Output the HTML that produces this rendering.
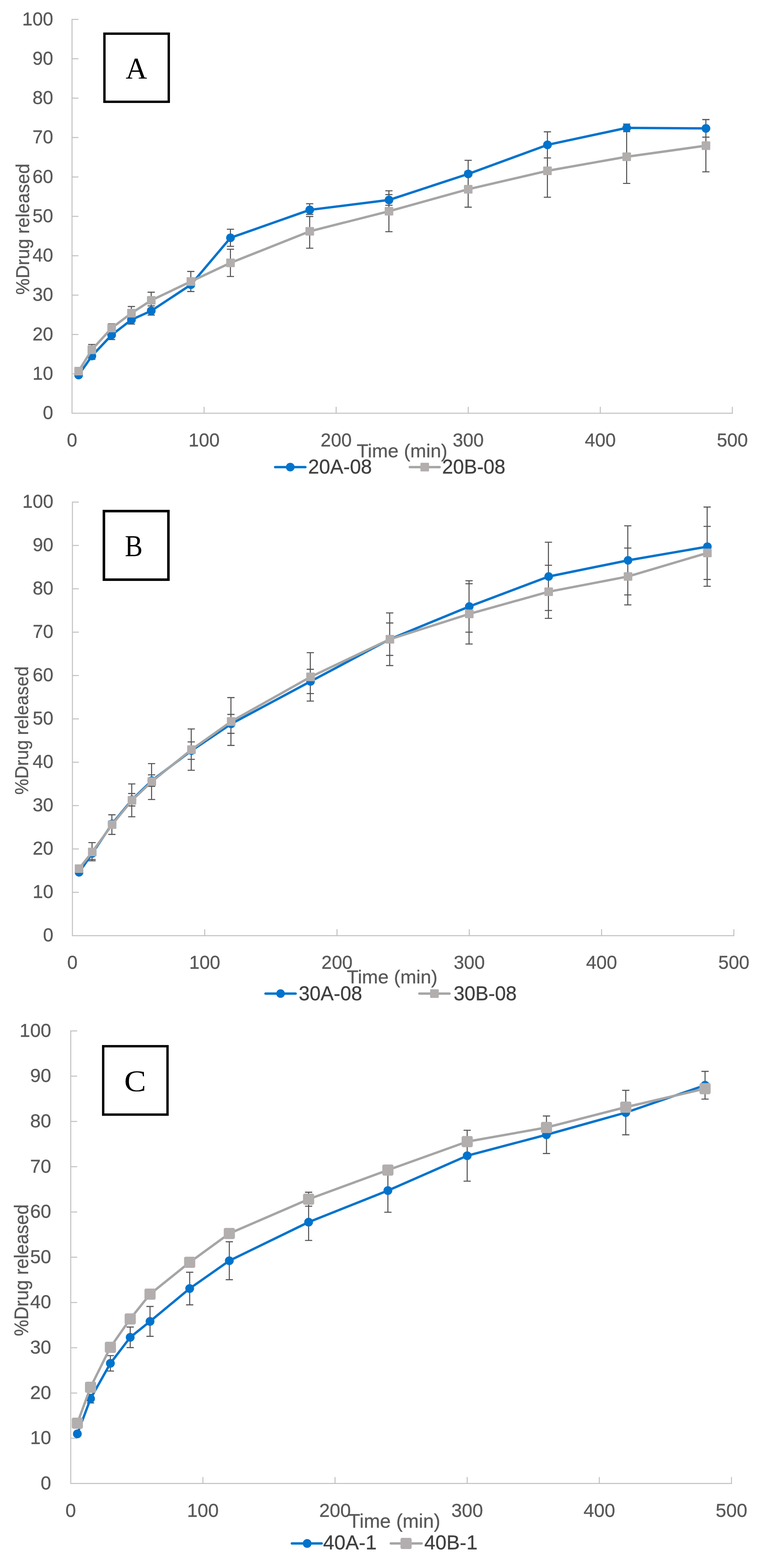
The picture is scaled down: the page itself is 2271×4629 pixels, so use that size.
<!DOCTYPE html>
<html lang="en"><head><meta charset="utf-8"><title>Drug release profiles</title>
<style>html,body{margin:0;padding:0;background:#fff;overflow:hidden}svg{display:block}.t{font-family:'Liberation Sans', sans-serif;fill:#595959;stroke:#595959;stroke-width:.5px}.l{font-family:'Liberation Sans', sans-serif;fill:#404040;stroke:#404040;stroke-width:.5px}.s{font-family:'Liberation Serif', serif;fill:#000}</style>
</head><body>
<svg width="2271" height="4629" viewBox="0 0 2271 4629">
<rect width="2271" height="4629" fill="#fff"/>
<g id="chart-A">
<path d="M212.7 55.8 V1220 H2164.3 M212.7 1103.73 h19 M212.7 987.46 h19 M212.7 871.19 h19 M212.7 754.92 h19 M212.7 638.65 h19 M212.7 522.38 h19 M212.7 406.11 h19 M212.7 289.84 h19 M212.7 173.57 h19 M212.7 57.3 h19 M602.72 1220 v-19 M992.74 1220 v-19 M1382.76 1220 v-19 M1772.78 1220 v-19 M2162.8 1220 v-19" fill="none" stroke="#C2C2C2" stroke-width="3" stroke-linejoin="round"/>
<g class="t" font-size="55" text-anchor="end">
<text x="157.15" y="1237.3" textLength="30.59" lengthAdjust="spacingAndGlyphs">0</text>
<text x="157.15" y="1121.03" textLength="61.18" lengthAdjust="spacingAndGlyphs">10</text>
<text x="157.15" y="1004.76" textLength="61.18" lengthAdjust="spacingAndGlyphs">20</text>
<text x="157.15" y="888.49" textLength="61.18" lengthAdjust="spacingAndGlyphs">30</text>
<text x="157.15" y="772.22" textLength="61.18" lengthAdjust="spacingAndGlyphs">40</text>
<text x="157.15" y="655.95" textLength="61.18" lengthAdjust="spacingAndGlyphs">50</text>
<text x="157.15" y="539.68" textLength="61.18" lengthAdjust="spacingAndGlyphs">60</text>
<text x="157.15" y="423.41" textLength="61.18" lengthAdjust="spacingAndGlyphs">70</text>
<text x="157.15" y="307.14" textLength="61.18" lengthAdjust="spacingAndGlyphs">80</text>
<text x="157.15" y="190.87" textLength="61.18" lengthAdjust="spacingAndGlyphs">90</text>
<text x="157.15" y="74.6" textLength="91.76" lengthAdjust="spacingAndGlyphs">100</text>
</g>
<g class="t" font-size="55" text-anchor="middle">
<text x="212.7" y="1318" textLength="30.59" lengthAdjust="spacingAndGlyphs">0</text>
<text x="602.72" y="1318" textLength="91.76" lengthAdjust="spacingAndGlyphs">100</text>
<text x="992.74" y="1318" textLength="91.76" lengthAdjust="spacingAndGlyphs">200</text>
<text x="1382.76" y="1318" textLength="91.76" lengthAdjust="spacingAndGlyphs">300</text>
<text x="1772.78" y="1318" textLength="91.76" lengthAdjust="spacingAndGlyphs">400</text>
<text x="2162.8" y="1318" textLength="91.76" lengthAdjust="spacingAndGlyphs">500</text>
</g>
<text class="t" font-size="56" transform="translate(85.8 870) rotate(-90)" textLength="386.9" lengthAdjust="spacingAndGlyphs">%Drug released</text>
<text class="t" font-size="56" x="1053.5" y="1350.2" textLength="267.9" lengthAdjust="spacingAndGlyphs">Time (min)</text>
<path d="M271 1041.3V1060.7M260.3 1041.3h21.4M260.3 1060.7h21.4M329.51 975.5V1002.5M318.81 975.5h21.4M318.81 1002.5h21.4M388.01 931.1V956.7M377.31 931.1h21.4M377.31 956.7h21.4M446.51 903V930.3M435.81 903h21.4M435.81 930.3h21.4M680.52 676.7V727.3M669.82 676.7h21.4M669.82 727.3h21.4M914.54 601.55V632.9M903.84 601.55h21.4M903.84 632.9h21.4M1148.55 574.55V606.05M1137.85 574.55h21.4M1137.85 606.05h21.4M1382.56 473.3V553.7M1371.86 473.3h21.4M1371.86 553.7h21.4M1616.57 389.1V466.3M1605.87 389.1h21.4M1605.87 466.3h21.4M1850.58 366.2V388.8M1839.88 366.2h21.4M1839.88 388.8h21.4M2084.6 353.3V404.9M2073.9 353.3h21.4M2073.9 404.9h21.4M271 1017V1048M260.3 1017h21.4M260.3 1048h21.4M329.51 956V980.8M318.81 956h21.4M318.81 980.8h21.4M388.01 904.9V944.1M377.31 904.9h21.4M377.31 944.1h21.4M446.51 862.6V910.6M435.81 862.6h21.4M435.81 910.6h21.4M563.52 801.35V860.65M552.82 801.35h21.4M552.82 860.65h21.4M680.52 735.8V816.2M669.82 735.8h21.4M669.82 816.2h21.4M914.54 639.15V732.7M903.84 639.15h21.4M903.84 732.7h21.4M1148.55 563.2V684M1137.85 563.2h21.4M1137.85 684h21.4M1382.56 505.8V611.6M1371.86 505.8h21.4M1371.86 611.6h21.4M1616.57 426.4V582.2M1605.87 426.4h21.4M1605.87 582.2h21.4M1850.58 383.9V541.5M1839.88 383.9h21.4M1839.88 541.5h21.4M2084.6 352.7V507.3M2073.9 352.7h21.4M2073.9 507.3h21.4" fill="none" stroke="#555555" stroke-width="3.1"/>
<path d="M232.2 1107.2 L271.2 1051 L329.71 989 L388.21 943.9 L446.71 917.6 L563.72 840.5 L680.72 702 L914.74 619.6 L1148.75 590.3 L1382.76 513.5 L1616.77 427.7 L1850.78 377.5 L2084.8 379.1" fill="none" stroke="#0073CC" stroke-width="7" stroke-linejoin="round" stroke-linecap="round"/>
<g fill="#0073CC"><circle cx="232.2" cy="1107.2" r="12.85"/><circle cx="271.2" cy="1051" r="12.85"/><circle cx="329.71" cy="989" r="12.85"/><circle cx="388.21" cy="943.9" r="12.85"/><circle cx="446.71" cy="917.6" r="12.85"/><circle cx="563.72" cy="840.5" r="12.85"/><circle cx="680.72" cy="702" r="12.85"/><circle cx="914.74" cy="619.6" r="12.85"/><circle cx="1148.75" cy="590.3" r="12.85"/><circle cx="1382.76" cy="513.5" r="12.85"/><circle cx="1616.77" cy="427.7" r="12.85"/><circle cx="1850.78" cy="377.5" r="12.85"/><circle cx="2084.8" cy="379.1" r="12.85"/></g>
<path d="M232.2 1095.6 L271.2 1032.5 L329.71 968.4 L388.21 924.5 L446.71 886.6 L563.72 831 L680.72 776 L914.74 682.9 L1148.75 623.6 L1382.76 558.7 L1616.77 504.3 L1850.78 462.7 L2084.8 430" fill="none" stroke="#A5A5A5" stroke-width="7" stroke-linejoin="round" stroke-linecap="round"/>
<g fill="#B3AEAE"><rect x="219.5" y="1082.9" width="25.4" height="25.4" rx="2"/><rect x="258.5" y="1019.8" width="25.4" height="25.4" rx="2"/><rect x="317.01" y="955.7" width="25.4" height="25.4" rx="2"/><rect x="375.51" y="911.8" width="25.4" height="25.4" rx="2"/><rect x="434.01" y="873.9" width="25.4" height="25.4" rx="2"/><rect x="551.02" y="818.3" width="25.4" height="25.4" rx="2"/><rect x="668.02" y="763.3" width="25.4" height="25.4" rx="2"/><rect x="902.04" y="670.2" width="25.4" height="25.4" rx="2"/><rect x="1136.05" y="610.9" width="25.4" height="25.4" rx="2"/><rect x="1370.06" y="546" width="25.4" height="25.4" rx="2"/><rect x="1604.07" y="491.6" width="25.4" height="25.4" rx="2"/><rect x="1838.08" y="450" width="25.4" height="25.4" rx="2"/><rect x="2072.1" y="417.3" width="25.4" height="25.4" rx="2"/></g>
<path d="M812.6 1379H901.8" stroke="#0073CC" stroke-width="7" stroke-linecap="round"/>
<circle cx="857.2" cy="1379" r="12.85" fill="#0073CC"/>
<path d="M1210.3 1379H1298.3" stroke="#A5A5A5" stroke-width="7" stroke-linecap="round"/>
<rect x="1241.6" y="1366.3" width="25.4" height="25.4" rx="2" fill="#B3AEAE"/>
<text class="l" font-size="58.5" x="910.08" y="1398.3" textLength="188.24" lengthAdjust="spacingAndGlyphs">20A-08</text>
<text class="l" font-size="58.5" x="1305.78" y="1398.3" textLength="186.74" lengthAdjust="spacingAndGlyphs">20B-08</text>
<rect x="308.4" y="99.4" width="190" height="201.1" fill="#fff" stroke="#000" stroke-width="7"/>
<text class="s" font-size="88.79" transform="translate(371.12 230.8) scale(0.99 1)">A</text>
</g>
<g id="chart-B">
<path d="M213.9 1480.8 V2762.2 H2168.7 M213.9 2634.21 h19 M213.9 2506.22 h19 M213.9 2378.23 h19 M213.9 2250.24 h19 M213.9 2122.25 h19 M213.9 1994.26 h19 M213.9 1866.27 h19 M213.9 1738.28 h19 M213.9 1610.29 h19 M213.9 1482.3 h19 M604.56 2762.2 v-19 M995.22 2762.2 v-19 M1385.88 2762.2 v-19 M1776.54 2762.2 v-19 M2167.2 2762.2 v-19" fill="none" stroke="#C2C2C2" stroke-width="3" stroke-linejoin="round"/>
<g class="t" font-size="55" text-anchor="end">
<text x="157.65" y="2778.8" textLength="30.59" lengthAdjust="spacingAndGlyphs">0</text>
<text x="157.65" y="2650.81" textLength="61.18" lengthAdjust="spacingAndGlyphs">10</text>
<text x="157.65" y="2522.82" textLength="61.18" lengthAdjust="spacingAndGlyphs">20</text>
<text x="157.65" y="2394.83" textLength="61.18" lengthAdjust="spacingAndGlyphs">30</text>
<text x="157.65" y="2266.84" textLength="61.18" lengthAdjust="spacingAndGlyphs">40</text>
<text x="157.65" y="2138.85" textLength="61.18" lengthAdjust="spacingAndGlyphs">50</text>
<text x="157.65" y="2010.86" textLength="61.18" lengthAdjust="spacingAndGlyphs">60</text>
<text x="157.65" y="1882.87" textLength="61.18" lengthAdjust="spacingAndGlyphs">70</text>
<text x="157.65" y="1754.88" textLength="61.18" lengthAdjust="spacingAndGlyphs">80</text>
<text x="157.65" y="1626.89" textLength="61.18" lengthAdjust="spacingAndGlyphs">90</text>
<text x="157.65" y="1498.9" textLength="91.76" lengthAdjust="spacingAndGlyphs">100</text>
</g>
<g class="t" font-size="55" text-anchor="middle">
<text x="213.9" y="2859.5" textLength="30.59" lengthAdjust="spacingAndGlyphs">0</text>
<text x="604.56" y="2859.5" textLength="91.76" lengthAdjust="spacingAndGlyphs">100</text>
<text x="995.22" y="2859.5" textLength="91.76" lengthAdjust="spacingAndGlyphs">200</text>
<text x="1385.88" y="2859.5" textLength="91.76" lengthAdjust="spacingAndGlyphs">300</text>
<text x="1776.54" y="2859.5" textLength="91.76" lengthAdjust="spacingAndGlyphs">400</text>
<text x="2167.2" y="2859.5" textLength="91.76" lengthAdjust="spacingAndGlyphs">500</text>
</g>
<text class="t" font-size="56" transform="translate(83.1 2346.1) rotate(-90)" textLength="378.9" lengthAdjust="spacingAndGlyphs">%Drug released</text>
<text class="t" font-size="56" x="1024" y="2902.8" textLength="268.2" lengthAdjust="spacingAndGlyphs">Time (min)</text>
<path d="M271.8 2504.5V2537.2M261.1 2504.5h21.4M261.1 2537.2h21.4M389 2342.65V2379.35M378.3 2342.65h21.4M378.3 2379.35h21.4M447.6 2287.5V2321.5M436.9 2287.5h21.4M436.9 2321.5h21.4M564.79 2190.2V2241.8M554.09 2190.2h21.4M554.09 2241.8h21.4M681.99 2109.15V2164.85M671.29 2109.15h21.4M671.29 2164.85h21.4M916.39 1975.85V2047.55M905.69 1975.85h21.4M905.69 2047.55h21.4M1150.78 1839.1V1934.9M1140.08 1839.1h21.4M1140.08 1934.9h21.4M1385.18 1714.5V1866.3M1374.48 1714.5h21.4M1374.48 1866.3h21.4M1619.58 1600.7V1802.3M1608.88 1600.7h21.4M1608.88 1802.3h21.4M1853.97 1552.2V1756.2M1843.27 1552.2h21.4M1843.27 1756.2h21.4M2088.37 1496.9V1730.7M2077.67 1496.9h21.4M2077.67 1730.7h21.4M271.8 2487.5V2541.3M261.1 2487.5h21.4M261.1 2541.3h21.4M330.4 2405.4V2463.4M319.7 2405.4h21.4M319.7 2463.4h21.4M389 2314.3V2411.3M378.3 2314.3h21.4M378.3 2411.3h21.4M447.6 2254.2V2360.2M436.9 2254.2h21.4M436.9 2360.2h21.4M564.79 2152V2274M554.09 2152h21.4M554.09 2274h21.4M681.99 2059.4V2200.6M671.29 2059.4h21.4M671.29 2200.6h21.4M916.39 1926.8V2069.8M905.69 1926.8h21.4M905.69 2069.8h21.4M1150.78 1809.55V1964.85M1140.08 1809.55h21.4M1140.08 1964.85h21.4M1385.18 1723.3V1901.3M1374.48 1723.3h21.4M1374.48 1901.3h21.4M1619.58 1668.7V1825.5M1608.88 1668.7h21.4M1608.88 1825.5h21.4M1853.97 1618V1785.8M1843.27 1618h21.4M1843.27 1785.8h21.4M2088.37 1554V1710.6M2077.67 1554h21.4M2077.67 1710.6h21.4" fill="none" stroke="#555555" stroke-width="3.1"/>
<path d="M233.43 2575.4 L272.5 2519.6 L331.1 2432 L389.7 2361 L448.3 2304.5 L565.49 2216 L682.69 2137 L917.09 2011.7 L1151.48 1887 L1385.88 1790.4 L1620.28 1702 L1854.67 1654.2 L2089.07 1613.8" fill="none" stroke="#0073CC" stroke-width="7" stroke-linejoin="round" stroke-linecap="round"/>
<g fill="#0073CC"><circle cx="233.43" cy="2575.4" r="12.65"/><circle cx="272.5" cy="2519.6" r="12.65"/><circle cx="331.1" cy="2432" r="12.65"/><circle cx="389.7" cy="2361" r="12.65"/><circle cx="448.3" cy="2304.5" r="12.65"/><circle cx="565.49" cy="2216" r="12.65"/><circle cx="682.69" cy="2137" r="12.65"/><circle cx="917.09" cy="2011.7" r="12.65"/><circle cx="1151.48" cy="1887" r="12.65"/><circle cx="1385.88" cy="1790.4" r="12.65"/><circle cx="1620.28" cy="1702" r="12.65"/><circle cx="1854.67" cy="1654.2" r="12.65"/><circle cx="2089.07" cy="1613.8" r="12.65"/></g>
<path d="M233.43 2564.4 L272.5 2515.1 L331.1 2434.4 L389.7 2362.8 L448.3 2307.2 L565.49 2213 L682.69 2130 L917.09 1998.3 L1151.48 1887.2 L1385.88 1812.3 L1620.28 1746.9 L1854.67 1701.9 L2089.07 1632.3" fill="none" stroke="#A5A5A5" stroke-width="7" stroke-linejoin="round" stroke-linecap="round"/>
<g fill="#B3AEAE"><rect x="220.73" y="2551.7" width="25.4" height="25.4" rx="2"/><rect x="259.8" y="2502.4" width="25.4" height="25.4" rx="2"/><rect x="318.4" y="2421.7" width="25.4" height="25.4" rx="2"/><rect x="377" y="2350.1" width="25.4" height="25.4" rx="2"/><rect x="435.6" y="2294.5" width="25.4" height="25.4" rx="2"/><rect x="552.79" y="2200.3" width="25.4" height="25.4" rx="2"/><rect x="669.99" y="2117.3" width="25.4" height="25.4" rx="2"/><rect x="904.39" y="1985.6" width="25.4" height="25.4" rx="2"/><rect x="1138.78" y="1874.5" width="25.4" height="25.4" rx="2"/><rect x="1373.18" y="1799.6" width="25.4" height="25.4" rx="2"/><rect x="1607.58" y="1734.2" width="25.4" height="25.4" rx="2"/><rect x="1841.97" y="1689.2" width="25.4" height="25.4" rx="2"/><rect x="2076.37" y="1619.6" width="25.4" height="25.4" rx="2"/></g>
<path d="M784.1 2933.2H873" stroke="#0073CC" stroke-width="7" stroke-linecap="round"/>
<circle cx="828.55" cy="2933.2" r="12.65" fill="#0073CC"/>
<path d="M1238.5 2933.2H1327.4" stroke="#A5A5A5" stroke-width="7" stroke-linecap="round"/>
<rect x="1270.25" y="2920.5" width="25.4" height="25.4" rx="2" fill="#B3AEAE"/>
<text class="l" font-size="58.5" x="882.18" y="2953" textLength="187.34" lengthAdjust="spacingAndGlyphs">30A-08</text>
<text class="l" font-size="58.5" x="1339.78" y="2953" textLength="186.04" lengthAdjust="spacingAndGlyphs">30B-08</text>
<rect x="306.85" y="1508.85" width="190.5" height="202.4" fill="#fff" stroke="#000" stroke-width="7.5"/>
<text class="s" font-size="89.16" transform="translate(368.73 1641.2) scale(0.88 1)">B</text>
</g>
<g id="chart-C">
<path d="M208.9 3042 V4379.6 H2161.7 M208.9 4245.99 h19 M208.9 4112.38 h19 M208.9 3978.77 h19 M208.9 3845.16 h19 M208.9 3711.55 h19 M208.9 3577.94 h19 M208.9 3444.33 h19 M208.9 3310.72 h19 M208.9 3177.11 h19 M208.9 3043.5 h19 M599.16 4379.6 v-19 M989.42 4379.6 v-19 M1379.68 4379.6 v-19 M1769.94 4379.6 v-19 M2160.2 4379.6 v-19" fill="none" stroke="#C2C2C2" stroke-width="3" stroke-linejoin="round"/>
<g class="t" font-size="56" text-anchor="end">
<text x="151.18" y="4396.9" textLength="31.14" lengthAdjust="spacingAndGlyphs">0</text>
<text x="151.18" y="4263.29" textLength="62.29" lengthAdjust="spacingAndGlyphs">10</text>
<text x="151.18" y="4129.68" textLength="62.29" lengthAdjust="spacingAndGlyphs">20</text>
<text x="151.18" y="3996.07" textLength="62.29" lengthAdjust="spacingAndGlyphs">30</text>
<text x="151.18" y="3862.46" textLength="62.29" lengthAdjust="spacingAndGlyphs">40</text>
<text x="151.18" y="3728.85" textLength="62.29" lengthAdjust="spacingAndGlyphs">50</text>
<text x="151.18" y="3595.24" textLength="62.29" lengthAdjust="spacingAndGlyphs">60</text>
<text x="151.18" y="3461.63" textLength="62.29" lengthAdjust="spacingAndGlyphs">70</text>
<text x="151.18" y="3328.02" textLength="62.29" lengthAdjust="spacingAndGlyphs">80</text>
<text x="151.18" y="3194.41" textLength="62.29" lengthAdjust="spacingAndGlyphs">90</text>
<text x="151.18" y="3060.8" textLength="93.43" lengthAdjust="spacingAndGlyphs">100</text>
</g>
<g class="t" font-size="56" text-anchor="middle">
<text x="208.9" y="4478" textLength="31.14" lengthAdjust="spacingAndGlyphs">0</text>
<text x="599.16" y="4478" textLength="93.43" lengthAdjust="spacingAndGlyphs">100</text>
<text x="989.42" y="4478" textLength="93.43" lengthAdjust="spacingAndGlyphs">200</text>
<text x="1379.68" y="4478" textLength="93.43" lengthAdjust="spacingAndGlyphs">300</text>
<text x="1769.94" y="4478" textLength="93.43" lengthAdjust="spacingAndGlyphs">400</text>
<text x="2160.2" y="4478" textLength="93.43" lengthAdjust="spacingAndGlyphs">500</text>
</g>
<text class="t" font-size="57" transform="translate(83.1 3944.6) rotate(-90)" textLength="389.2" lengthAdjust="spacingAndGlyphs">%Drug released</text>
<text class="t" font-size="57" x="1028.8" y="4510.4" textLength="271.6" lengthAdjust="spacingAndGlyphs">Time (min)</text>
<path d="M267.44 4116.4V4141.8M256.74 4116.4h21.4M256.74 4141.8h21.4M325.98 4002.05V4047.55M315.28 4002.05h21.4M315.28 4047.55h21.4M384.52 3917.65V3978.35M373.82 3917.65h21.4M373.82 3978.35h21.4M443.06 3856.85V3945.15M432.36 3856.85h21.4M432.36 3945.15h21.4M560.13 3755.9V3852.1M549.43 3755.9h21.4M549.43 3852.1h21.4M677.21 3665.9V3777.9M666.51 3665.9h21.4M666.51 3777.9h21.4M911.37 3554V3662M900.67 3554h21.4M900.67 3662h21.4M1145.52 3450.8V3578.8M1134.82 3450.8h21.4M1134.82 3578.8h21.4M1379.68 3336.8V3487M1368.98 3336.8h21.4M1368.98 3487h21.4M1613.84 3294.65V3405.35M1603.14 3294.65h21.4M1603.14 3405.35h21.4M1847.99 3218.9V3350.1M1837.29 3218.9h21.4M1837.29 3350.1h21.4M2082.15 3162.9V3244.7M2071.45 3162.9h21.4M2071.45 3244.7h21.4M911.37 3519.6V3561M900.67 3519.6h21.4M900.67 3561h21.4" fill="none" stroke="#555555" stroke-width="3.1"/>
<path d="M228.41 4233 L267.44 4129.1 L325.98 4024.8 L384.52 3948 L443.06 3901 L560.13 3804 L677.21 3721.9 L911.37 3608 L1145.52 3514.8 L1379.68 3411.9 L1613.84 3350 L1847.99 3284.5 L2082.15 3203.8" fill="none" stroke="#0073CC" stroke-width="7" stroke-linejoin="round" stroke-linecap="round"/>
<g fill="#0073CC"><circle cx="228.41" cy="4233" r="13"/><circle cx="267.44" cy="4129.1" r="13"/><circle cx="325.98" cy="4024.8" r="13"/><circle cx="384.52" cy="3948" r="13"/><circle cx="443.06" cy="3901" r="13"/><circle cx="560.13" cy="3804" r="13"/><circle cx="677.21" cy="3721.9" r="13"/><circle cx="911.37" cy="3608" r="13"/><circle cx="1145.52" cy="3514.8" r="13"/><circle cx="1379.68" cy="3411.9" r="13"/><circle cx="1613.84" cy="3350" r="13"/><circle cx="1847.99" cy="3284.5" r="13"/><circle cx="2082.15" cy="3203.8" r="13"/></g>
<path d="M228.41 4201.5 L267.44 4095.4 L325.98 3977.5 L384.52 3893.7 L443.06 3820.6 L560.13 3726.6 L677.21 3641.5 L911.37 3540.3 L1145.52 3454.2 L1379.68 3370.3 L1613.84 3328.5 L1847.99 3268.5 L2082.15 3213.9" fill="none" stroke="#A5A5A5" stroke-width="7" stroke-linejoin="round" stroke-linecap="round"/>
<g fill="#B3AEAE"><rect x="211.91" y="4185" width="33" height="33" rx="5"/><rect x="250.94" y="4078.9" width="33" height="33" rx="5"/><rect x="309.48" y="3961" width="33" height="33" rx="5"/><rect x="368.02" y="3877.2" width="33" height="33" rx="5"/><rect x="426.56" y="3804.1" width="33" height="33" rx="5"/><rect x="543.63" y="3710.1" width="33" height="33" rx="5"/><rect x="660.71" y="3625" width="33" height="33" rx="5"/><rect x="894.87" y="3523.8" width="33" height="33" rx="5"/><rect x="1129.02" y="3437.7" width="33" height="33" rx="5"/><rect x="1363.18" y="3353.8" width="33" height="33" rx="5"/><rect x="1597.34" y="3312" width="33" height="33" rx="5"/><rect x="1831.49" y="3252" width="33" height="33" rx="5"/><rect x="2065.65" y="3197.4" width="33" height="33" rx="5"/></g>
<path d="M861.9 4556.6H949.9" stroke="#0073CC" stroke-width="7" stroke-linecap="round"/>
<circle cx="907.1" cy="4556.6" r="13" fill="#0073CC"/>
<path d="M1154.1 4556.6H1245.2" stroke="#A5A5A5" stroke-width="7" stroke-linecap="round"/>
<rect x="1182.7" y="4540.1" width="33" height="33" rx="5" fill="#B3AEAE"/>
<text class="l" font-size="59" x="954.34" y="4573.7" textLength="158.15" lengthAdjust="spacingAndGlyphs">40A-1</text>
<text class="l" font-size="59" x="1253.04" y="4573.7" textLength="157.15" lengthAdjust="spacingAndGlyphs">40B-1</text>
<rect x="304.7" y="3088.6" width="190" height="201.9" fill="#fff" stroke="#000" stroke-width="7"/>
<text class="s" font-size="89.88" transform="translate(366.64 3221.4) scale(1.08 1)">C</text>
</g>
</svg>
</body></html>
